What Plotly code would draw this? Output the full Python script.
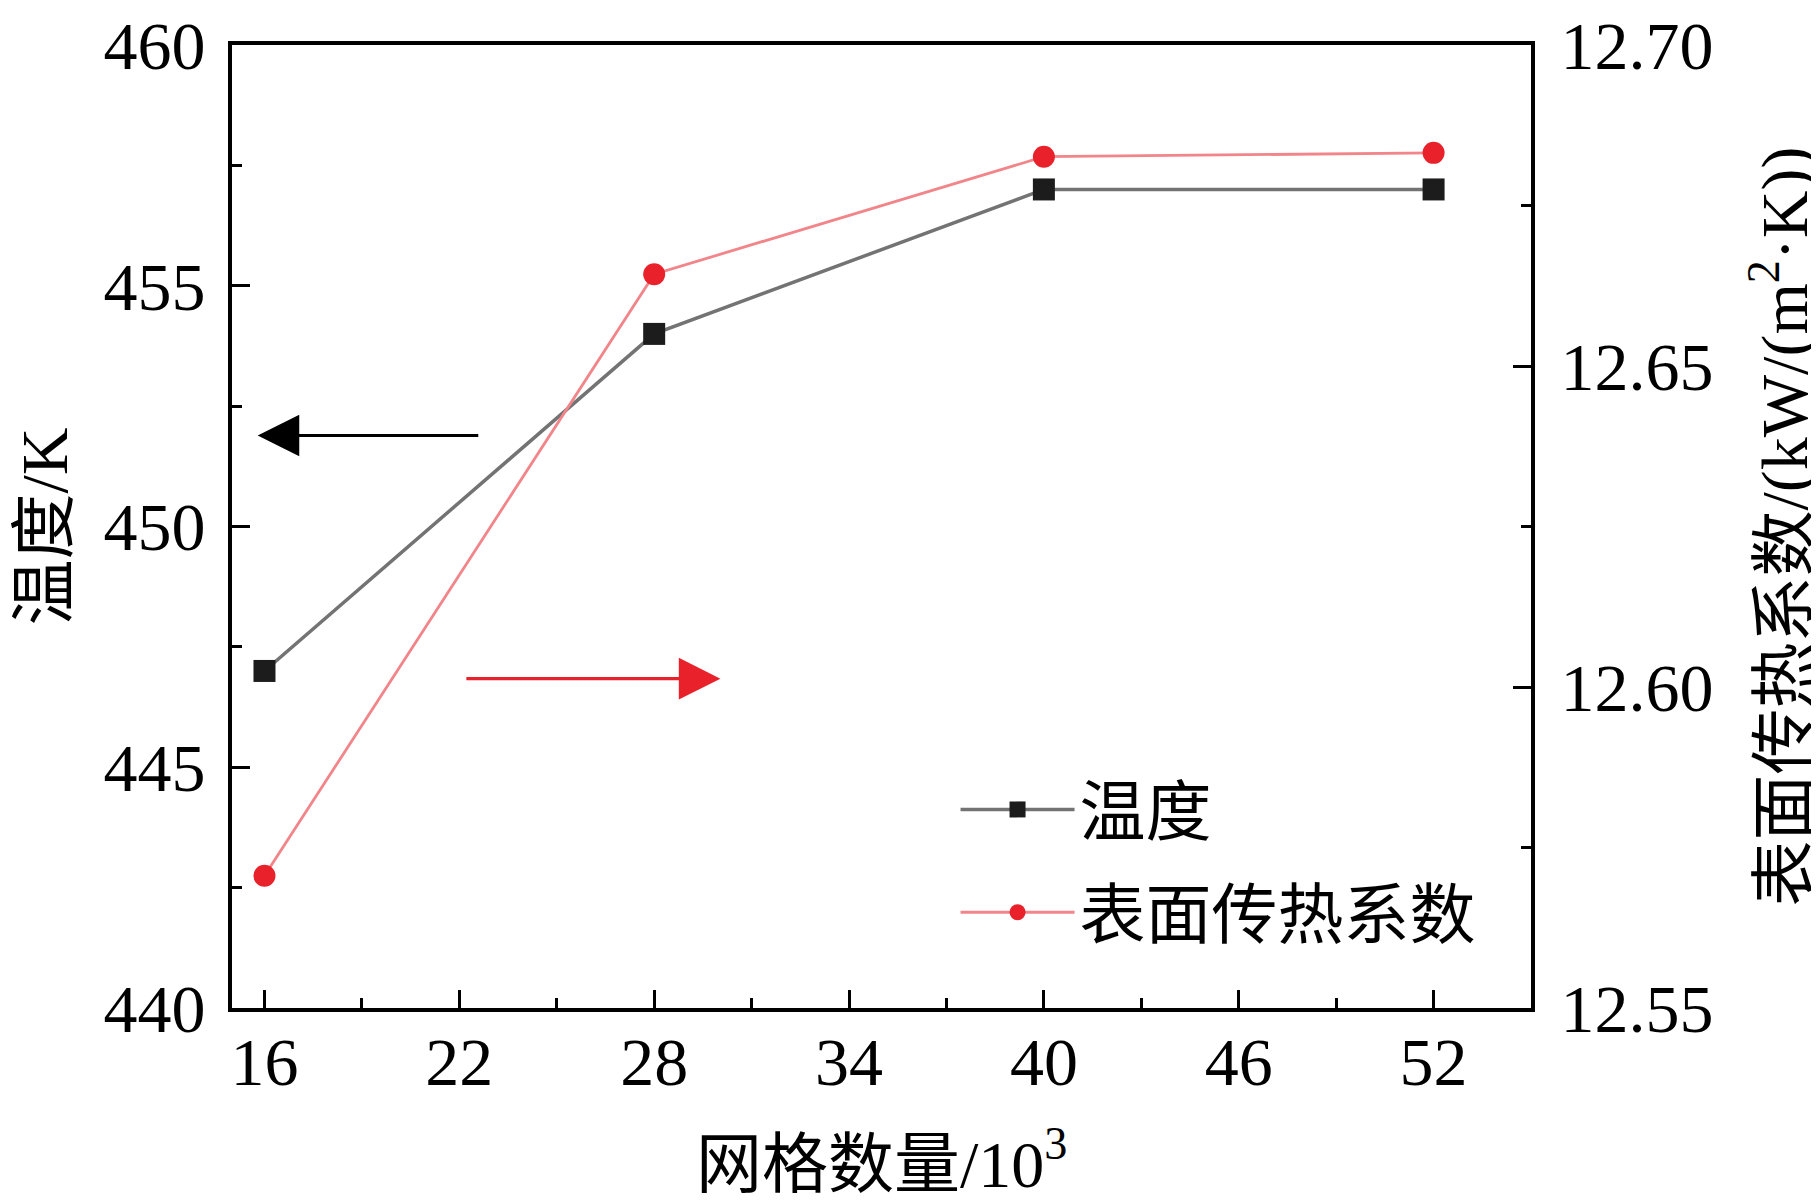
import plotly.graph_objects as go

# grid size (10^3) and the two measured quantities
grid_count = [16, 28, 40, 52]
temperature = [447.0, 454.0, 457.0, 457.0]
heat_coeff = [12.5706, 12.6643, 12.6826, 12.6832]

x_ticks = [16, 22, 28, 34, 40, 46, 52]

x_title = "网格数量/10<sup>3</sup>"
y_title = "温度/K"
y2_title = "表面传热系数/(kW/(m<sup>2</sup>·K))"

FONT = "Liberation Serif, Times New Roman, Noto Sans CJK SC"

fig = go.Figure()

fig.add_trace(
    go.Scatter(
        x=grid_count,
        y=temperature,
        mode="lines+markers",
        name="温度",
        legendgroup="t",
        line=dict(color="#737373", width=3.5),
        marker=dict(symbol="square", size=22, color="#1c1c1c"),
        yaxis="y",
    )
)

fig.add_trace(
    go.Scatter(
        x=grid_count,
        y=heat_coeff,
        mode="lines+markers",
        name="表面传热系数",
        legendgroup="h",
        line=dict(color="#f2858a", width=2.8),
        marker=dict(symbol="circle", size=22, color="#e8212b"),
        yaxis="y2",
    )
)

# arrows pointing to the axis each curve belongs to
fig.add_annotation(
    x=15.79, y=451.89, ax=22.63, ay=451.89,
    xref="x", yref="y", axref="x", ayref="y",
    showarrow=True, arrowhead=2, arrowsize=2.6, arrowwidth=3.2,
    arrowcolor="black", text="",
)
fig.add_annotation(
    x=30.04, y=446.84, ax=22.17, ay=446.84,
    xref="x", yref="y", axref="x", ayref="y",
    showarrow=True, arrowhead=2, arrowsize=2.6, arrowwidth=3.2,
    arrowcolor="#e8212b", text="",
)

# axis titles placed as annotations so their offsets are exact
title_font = dict(family=FONT, size=66, color="black")
fig.add_annotation(
    text=x_title, xref="paper", yref="paper", x=0.5, y=0,
    xanchor="center", yanchor="middle", yshift=-151,
    showarrow=False, font=title_font,
)
fig.add_annotation(
    text=y_title, xref="paper", yref="paper", x=0, y=0.5,
    xanchor="center", yanchor="middle", xshift=-188, textangle=-90,
    showarrow=False, font=title_font,
)
fig.add_annotation(
    text=y2_title, xref="paper", yref="paper", x=1, y=0.5,
    xanchor="center", yanchor="middle", xshift=249, textangle=-90,
    showarrow=False, font=title_font,
)

axis_common = dict(
    showline=True,
    linecolor="black",
    linewidth=4,
    ticks="inside",
    ticklen=18,
    tickwidth=3,
    tickcolor="black",
    showgrid=False,
    zeroline=False,
    automargin=False,
    ticklabeloverflow="allow",
    tickfont=dict(family=FONT, size=68, color="black"),
)
minor_common = dict(ticks="inside", ticklen=10, tickwidth=3, tickcolor="black")

fig.update_layout(
    width=1819,
    height=1200,
    margin=dict(l=224, r=296, t=37, b=200),
    paper_bgcolor="white",
    plot_bgcolor="white",
    font=dict(family=FONT, color="black"),
    showlegend=True,
    legend=dict(
        x=0.557,
        y=0.2575,
        xanchor="left",
        yanchor="top",
        bgcolor="rgba(0,0,0,0)",
        font=dict(family=FONT, size=66, color="black"),
        itemwidth=114,
        tracegroupgap=14,
        traceorder="grouped",
    ),
    xaxis=dict(
        **axis_common,
        range=[15, 55],
        tickvals=x_ticks,
        mirror=True,
        minor=dict(dtick=3, tick0=16, **minor_common),
        ticklabelstandoff=-9,
    ),
    yaxis=dict(
        **axis_common,
        range=[440, 460],
        dtick=5,
        tick0=440,
        minor=dict(dtick=2.5, **minor_common),
        ticklabelstandoff=9,
    ),
    yaxis2=dict(
        **axis_common,
        overlaying="y",
        side="right",
        range=[12.55, 12.70],
        dtick=0.05,
        tick0=12.55,
        tickformat=".2f",
        minor=dict(dtick=0.025, **minor_common),
        ticklabelstandoff=12,
    ),
)

fig.write_html("out.html")
